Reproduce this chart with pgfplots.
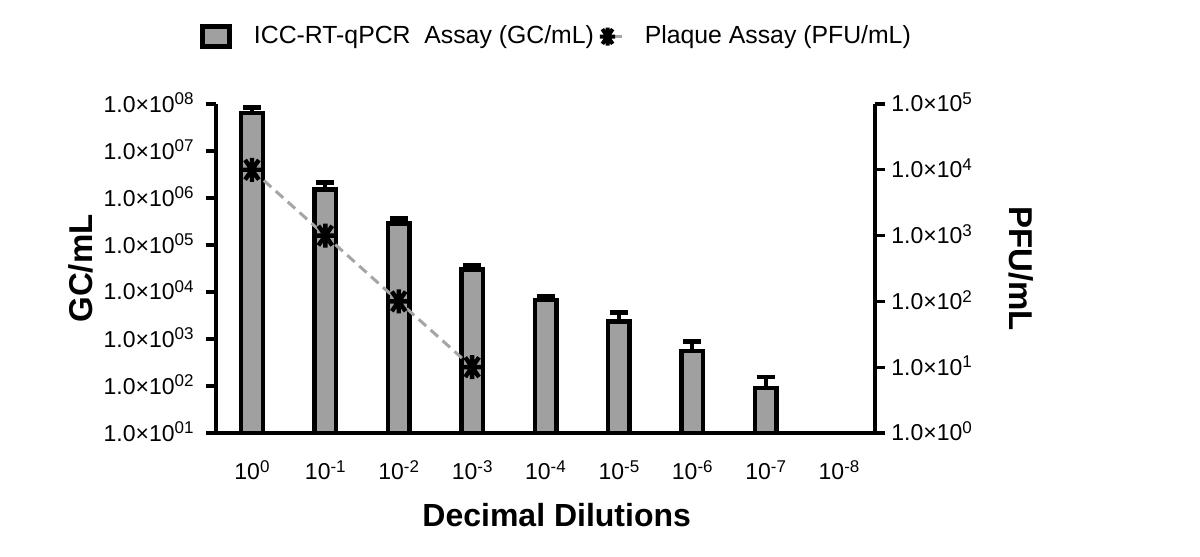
\documentclass[border=0pt]{standalone}
\usepackage{fontspec}
\setmainfont{Liberation Sans}
\usepackage{pgfplots}
\pgfplotsset{compat=1.18}

\definecolor{barg}{RGB}{160,160,160}
\definecolor{lineg}{RGB}{165,165,165}

% raised exponent as in the tick labels
\newcommand{\sups}[1]{\raisebox{3.6pt}{\fontsize{8.5}{10}\selectfont #1}}

% eight-armed asterisk like the plaque marker
\pgfdeclareplotmark{star8}{%
  \pgfpathmoveto{\pgfqpoint{0pt}{\pgfplotmarksize}}%
  \pgfpathlineto{\pgfqpoint{0pt}{-\pgfplotmarksize}}%
  \pgfpathmoveto{\pgfqpoint{0.85\pgfplotmarksize}{0pt}}%
  \pgfpathlineto{\pgfqpoint{-0.85\pgfplotmarksize}{0pt}}%
  \pgfpathmoveto{\pgfqpointpolar{55}{\pgfplotmarksize}}%
  \pgfpathlineto{\pgfqpointpolar{235}{\pgfplotmarksize}}%
  \pgfpathmoveto{\pgfqpointpolar{125}{\pgfplotmarksize}}%
  \pgfpathlineto{\pgfqpointpolar{305}{\pgfplotmarksize}}%
  \pgfusepathqstroke}

\begin{document}
\begin{tikzpicture}
\path[use as bounding box] (-108pt,-62pt) rectangle (492pt,216.5pt);

\begin{axis}[
  scale only axis, width=329.5pt, height=164.5pt,
  xmin=-0.49, xmax=8.49, ymode=log,
  ymin=1e1, ymax=1e8, log origin=infty,
  axis x line*=bottom, axis y line*=left,
  axis line style={line width=1.6pt, -},
  yminorticks=false, tick align=outside, major tick length=5pt,
  tick style={black, line width=1.6pt},
  ticklabel style={font=\fontsize{11.5}{13}\selectfont},
  xtick={0,1,2,3,4,5,6,7,8},
  xticklabels={10\sups{0},10\sups{-1},10\sups{-2},10\sups{-3},10\sups{-4},10\sups{-5},10\sups{-6},10\sups{-7},10\sups{-8}},
  major x tick style={draw=none},
  xticklabel style={anchor=base, inner sep=0pt, yshift=-18.5pt},
  ytick={1e1,1e2,1e3,1e4,1e5,1e6,1e7,1e8},
  yticklabels={1.0×10\sups{01},1.0×10\sups{02},1.0×10\sups{03},1.0×10\sups{04},1.0×10\sups{05},1.0×10\sups{06},1.0×10\sups{07},1.0×10\sups{08}},
  yticklabel style={anchor=base east, inner sep=0pt, xshift=-6pt, yshift=-4pt},
  xlabel={Decimal Dilutions},
  xlabel style={at={(axis description cs:0.517,-0.249)}, anchor=center, font=\fontsize{16}{18}\selectfont\bfseries},
  ylabel={GC/mL},
  ylabel style={at={(axis description cs:-0.2049,0.5)}, anchor=center, font=\fontsize{16.5}{18}\selectfont\bfseries},
  legend columns=2,
  legend style={at={(axis description cs:0,1)}, anchor=west, xshift=-8pt, yshift=33.75pt,
    draw=none, fill=none, inner sep=0pt, outer sep=0pt,
    font=\fontsize{12.4}{14}\selectfont,
    nodes={inner sep=0pt},
    /tikz/every odd column/.append style={column sep=11pt},
    /tikz/every even column/.append style={column sep=3pt}},
]
\addplot[ybar, bar width=10.8pt, fill=barg, draw=black, line width=2.2pt,
  legend image code/.code={\draw[draw=black, fill=barg, line width=2.5pt] (0pt,-5.2pt) rectangle (13.5pt,5.2pt);},
  error bars/.cd, y dir=plus, y explicit,
  error bar style={line width=2pt, black},
  error mark options={rotate=90, mark size=4.5pt, line width=2.4pt, black}]
coordinates {
  (0,6.5e7)  +- (0,1.8e7)
  (1,1.53e6) +- (0,5.7e5)
  (2,2.85e5) +- (0,7.5e4)
  (3,3.0e4)  +- (0,6.0e3)
  (4,6.8e3)  +- (0,1.3e3)
  (5,2.38e3) +- (0,1.32e3)
  (6,548)    +- (0,342)
  (7,90)     +- (0,65)
};
\addlegendentry{ICC-RT-qPCR\ \ Assay (GC/mL)}
\addlegendimage{legend image code/.code={%
  \draw[lineg, line width=1.3pt] (6pt,0pt) -- (13pt,0pt);
  \draw[black, line width=2pt, mark=star8, mark size=4.5pt] plot coordinates {(6pt,0pt)};}}
\addlegendentry{Plaque Assay (PFU/mL)}
\end{axis}

\begin{axis}[
  scale only axis, width=329.5pt, height=164.5pt,
  xmin=-0.49, xmax=8.49, ymode=log,
  ymin=1, ymax=1e5,
  axis x line=none, axis y line*=right,
  axis line style={line width=1.6pt, -},
  yminorticks=false, tick align=outside, major tick length=5pt,
  tick style={black, line width=1.6pt},
  ticklabel style={font=\fontsize{11.5}{13}\selectfont},
  ytick={1,1e1,1e2,1e3,1e4,1e5},
  yticklabels={1.0×10\sups{0},1.0×10\sups{1},1.0×10\sups{2},1.0×10\sups{3},1.0×10\sups{4},1.0×10\sups{5}},
  yticklabel style={anchor=base west, inner sep=0pt, xshift=3pt, yshift=-4pt},
  ylabel={PFU/mL},
  ylabel style={at={(axis description cs:1.2215,0.5)}, anchor=center, rotate=180, font=\fontsize{16.5}{18}\selectfont\bfseries},
]
\addplot[lineg, line width=1.5pt, dash pattern=on 5pt off 3pt,
  mark=star8, mark size=6pt, mark options={solid, black, line width=2.2pt}]
coordinates {(0,1.0e4) (1,1.0e3) (2,1.0e2) (3,1.0e1)};
\end{axis}
\end{tikzpicture}
\end{document}
